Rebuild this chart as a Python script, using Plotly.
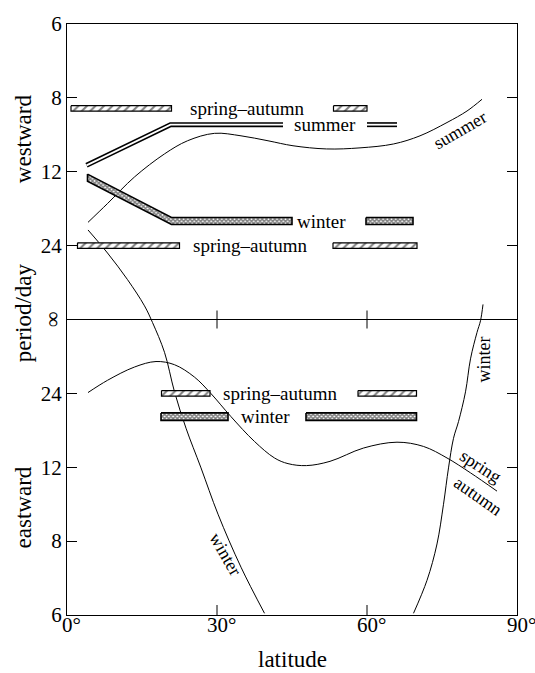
import plotly.graph_objects as go

# ---------------- data (latitude in degrees, frequency in cycles/day; + westward, - eastward)
SUMMER_W_LAT = [4.2, 8.1, 13.5, 19.5, 24.1, 29.5, 34.8, 40.2, 45.2, 51.9, 58.6, 65.3, 70.6, 76.0, 80.0, 83.0]
SUMMER_W_FREQ = [0.0548, 0.0654, 0.0804, 0.0934, 0.1008, 0.1050, 0.1036, 0.1008, 0.0980, 0.0962,
                 0.0968, 0.0990, 0.1036, 0.1111, 0.1176, 0.1242]

WINTER_L_LAT = [4.2, 8.1, 12.1, 15.5, 17.1, 19.5, 21.5, 23.8, 26.8, 30.2, 34.8, 39.5]
WINTER_L_FREQ = [0.0505, 0.0375, 0.0225, 0.0077, -0.0017, -0.0185, -0.0408, -0.0613, -0.0837,
                 -0.1098, -0.1397, -0.1657]

SPRAUT_E_LAT = [4.2, 8.1, 13.5, 17.8, 21.5, 25.5, 28.8, 32.8, 37.5, 41.5, 44.2, 47.9, 52.6, 59.3,
                66.0, 71.3, 76.0, 80.7, 86.0]
SPRAUT_E_FREQ = [-0.0412, -0.0343, -0.0268, -0.0237, -0.0255, -0.0325, -0.0418, -0.0548, -0.0688,
                 -0.0781, -0.0813, -0.0824, -0.0800, -0.0725, -0.0692, -0.0716, -0.0781, -0.0865,
                 -0.0968]

WINTER_R_LAT = [69.3, 72.0, 74.0, 75.3, 76.3, 77.3, 78.3, 79.7, 80.7, 82.0, 82.7, 83.2]
WINTER_R_FREQ = [-0.1657, -0.1471, -0.1266, -0.1042, -0.0837, -0.0670, -0.0576, -0.0408, -0.0222,
                 -0.0073, -0.0007, 0.0085]

# observed bands: latitude segments and periods (days); sign +1 westward, -1 eastward
SA_W_TOP_LAT = [[0.8, 20.9], [53.3, 60.0]]
SA_W_TOP_PERIOD = [[8.4, 8.4], [8.4, 8.4]]
SUMMER_BAND_LAT = [[3.9, 20.7, 43.2], [60.0, 66.0]]
SUMMER_BAND_PERIOD = [[11.5, 9.1, 9.1], [9.1, 9.1]]
WINTER_W_LAT = [[4.1, 20.9, 45.0], [59.8, 69.2]]
WINTER_W_PERIOD = [[12.5, 18.0, 18.0], [18.0, 18.0]]
SA_W_LOW_LAT = [[2.1, 22.5], [53.2, 70.0]]
SA_W_LOW_PERIOD = [[24, 24], [24, 24]]
SA_E_LAT = [[18.9, 28.6], [58.2, 69.9]]
SA_E_PERIOD = [[24, 24], [24, 24]]
WINTER_E_LAT = [[18.8, 32.2], [47.8, 69.9]]
WINTER_E_PERIOD = [[18.25, 18.25], [18.25, 18.25]]

TICK_PERIODS = [6, 8, 12, 24]
LAT_TICKS = [0, 30, 60, 90]

FONT = "Liberation Serif, Times New Roman, serif"
W, H = 535, 673
M = dict(l=67, r=18, t=19, b=58)
YMAX = 1 / 6
PX_PER_FREQ = (H - M["t"] - M["b"]) / (2 * YMAX)

fig = go.Figure()

def curve(lat, fr):
    fig.add_trace(go.Scatter(x=lat, y=fr, mode="lines", line=dict(color="black", width=1, shape="spline"),
                             hoverinfo="skip"))

curve(SUMMER_W_LAT, SUMMER_W_FREQ)
curve(WINTER_L_LAT, WINTER_L_FREQ)
curve(SPRAUT_E_LAT, SPRAUT_E_FREQ)
curve(WINTER_R_LAT, WINTER_R_FREQ)


def band(lat_segs, per_segs, sign, half_px, pat, lw):
    h = half_px / PX_PER_FREQ
    for lats, pers in zip(lat_segs, per_segs):
        f = [sign / p for p in pers]
        xs = list(lats) + list(lats[::-1]) + [lats[0]]
        ys = [v + h for v in f] + [v - h for v in f[::-1]] + [f[0] + h]
        fig.add_trace(go.Scatter(x=xs, y=ys, mode="lines", fill="toself",
                                 line=dict(color="black", width=lw),
                                 fillcolor="white", fillpattern=pat, hoverinfo="skip"))

hatch = dict(shape="/", fgcolor="black", bgcolor="white", size=6, solidity=0.35)
cross = dict(shape="x", fgcolor="black", bgcolor="white", size=3, solidity=0.7)

band(SA_W_TOP_LAT, SA_W_TOP_PERIOD, 1, 2.8, hatch, 1.2)
band(WINTER_W_LAT, WINTER_W_PERIOD, 1, 3.6, cross, 1.6)
band(SA_W_LOW_LAT, SA_W_LOW_PERIOD, 1, 2.8, hatch, 1.2)
band(SA_E_LAT, SA_E_PERIOD, -1, 2.8, hatch, 1.2)
band(WINTER_E_LAT, WINTER_E_PERIOD, -1, 3.8, cross, 1.6)

# summer: double line
for lats, pers in zip(SUMMER_BAND_LAT, SUMMER_BAND_PERIOD):
    f = [1 / p for p in pers]
    fig.add_trace(go.Scatter(x=lats, y=f, mode="lines", line=dict(color="black", width=5), hoverinfo="skip"))
    fig.add_trace(go.Scatter(x=lats, y=f, mode="lines", line=dict(color="white", width=1.8), hoverinfo="skip"))

# midline with ticks
fig.add_shape(type="line", xref="x", yref="y", x0=0, x1=90, y0=0, y1=0, line=dict(color="black", width=1))
for xv in LAT_TICKS[1:3]:
    fig.add_shape(type="line", xref="x", yref="y", ysizemode="pixel", yanchor=0, x0=xv, x1=xv, y0=-9, y1=9,
                  line=dict(color="black", width=1))
    # bottom inside ticks
    fig.add_shape(type="line", xref="x", yref="paper", ysizemode="pixel", yanchor=0, x0=xv, x1=xv,
                  y0=0, y1=10, line=dict(color="black", width=1))

tickvals = [1 / p for p in TICK_PERIODS] + [0] + [-1 / p for p in TICK_PERIODS[::-1]]
ticktext = [str(p) for p in TICK_PERIODS] + [""] + [str(p) for p in TICK_PERIODS[::-1]]

fig.update_layout(
    width=W, height=H, margin=M, showlegend=False,
    paper_bgcolor="white", plot_bgcolor="white",
    font=dict(family=FONT, color="black", size=20),
    xaxis=dict(range=[0, 90], tickvals=LAT_TICKS, showticklabels=False,
               ticks="", showline=True, linecolor="black",
               linewidth=1, mirror=True, showgrid=False, zeroline=False),
    yaxis=dict(range=[-YMAX, YMAX], tickvals=tickvals, ticktext=ticktext,
               ticks="inside", ticklen=10, tickcolor="black", showline=True, linecolor="black",
               linewidth=1, mirror="ticks", showgrid=False, zeroline=False,
               tickfont=dict(size=21, family=FONT)),
)

# latitude tick labels
for lt in LAT_TICKS:
    fig.add_annotation(text=f"{lt}°", x=lt, xref="x", xshift=4, y=0, yref="paper", yanchor="middle",
                       yshift=-10, showarrow=False, font=dict(family=FONT, size=21, color="black"))

def lab(text, x, y, size=19, angle=0, **kw):
    fig.add_annotation(text=text, x=x, y=y, xref="x", yref="y", showarrow=False, textangle=angle,
                       font=dict(family=FONT, size=size, color="black"), bgcolor="rgba(0,0,0,0)", **kw)

lab("spring–autumn", 35.9, 1 / 8.4)
lab("summer", 51.5, 1 / 9.1)
lab("winter", 50.9, 1 / 18.0)
lab("spring–autumn", 36.5, 1 / 24)
lab("spring–autumn", 42.5, -1 / 24)
lab("winter", 39.7, -1 / 18.25)
lab("summer", 78.6, 0.1070, size=18, angle=-30)
lab("winter", 31.7, -0.1320, size=18, angle=60)
lab("winter", 83.5, -0.0229, size=18, angle=-90)
lab("spring", 82.6, -0.0828, size=18, angle=33)
lab("autumn", 82.2, -0.0996, size=18, angle=35)

# infinity label at the midline
fig.add_annotation(text="∞", xref="paper", x=0, y=0, yref="y", xanchor="center", xshift=-13,
                   showarrow=False, textangle=90, font=dict(family=FONT, size=22, color="black"))

# axis titles
def ytitle(text, y, size=23):
    fig.add_annotation(text=text, xref="paper", x=0, xanchor="center", xshift=-44, yref="y", y=y,
                       showarrow=False, textangle=-90, font=dict(family=FONT, size=size, color="black"))

ytitle("westward", 0.1017)
ytitle("period/day", 0.0035)
ytitle("eastward", -0.1060)

fig.add_annotation(text="latitude", xref="x", x=45, yref="paper", y=0, yshift=-44, yanchor="middle",
                   showarrow=False, font=dict(family=FONT, size=23, color="black"))

fig.write_html("out.html")
